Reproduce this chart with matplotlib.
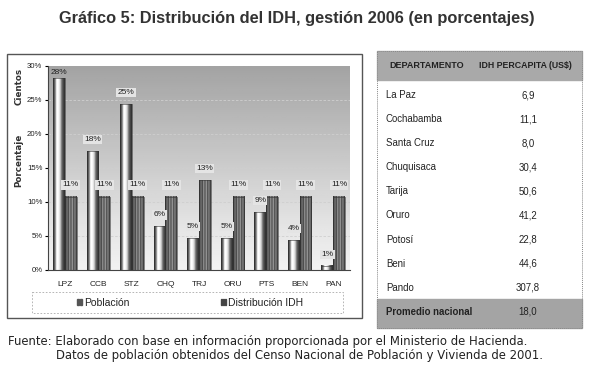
import matplotlib
matplotlib.use('Agg')
import matplotlib.pyplot as plt
import numpy as np
from matplotlib.patches import Rectangle

W,H=593,365
NARROW=['Liberation Sans Narrow','Liberation Sans','DejaVu Sans']

deptos=['LPZ','CCB','STZ','CHQ','TRJ','ORU','PTS','BEN','PAN']
poblacion=[28.2,17.5,24.4,6.4,4.7,4.7,8.5,4.4,0.6]
poblacion_lbl=['28%','18%','25%','6%','5%','5%','9%','4%','1%']
idh_dist=[10.8,10.8,10.8,10.8,13.2,10.8,10.8,10.8,10.8]
idh_lbl=['11%','11%','11%','11%','13%','11%','11%','11%','11%']

tabla_dep=['La Paz','Cochabamba','Santa Cruz','Chuquisaca','Tarija','Oruro','Potosí','Beni','Pando']
tabla_val=['6,9','11,1','8,0','30,4','50,6','41,2','22,8','44,6','307,8']
promedio=('Promedio nacional','18,0')

fig=plt.figure(figsize=(W/100,H/100),dpi=100)
fig.patch.set_facecolor('white')

# pixel overlay for boxes, table and texts
ov=fig.add_axes([0,0,1,1]);ov.set_xlim(0,W);ov.set_ylim(H,0);ov.axis('off')
ov.text(W/2,18,'Gráfico 5: Distribución del IDH, gestión 2006 (en porcentajes)',ha='center',va='center',
        fontsize=11.8,fontweight='bold',color='#333333',family=['Liberation Sans','DejaVu Sans'])
ov.add_patch(Rectangle((7,54),355,264,fill=False,ec='#555555',lw=1.0))
ov.add_patch(Rectangle((32,292),311,21,fill=False,ec='#aaaaaa',lw=0.6,ls=(0,(2,2))))
ov.text(19,86,'Cientos',rotation=90,ha='center',va='center',fontsize=6.3,fontweight='bold',color='#333333')
ov.text(19,160,'Porcentaje',rotation=90,ha='center',va='center',fontsize=6.3,fontweight='bold',color='#333333')
for x0,lab in ((76,'Población'),(220,'Distribución IDH')):
    ov.text(x0+8,302.5,lab,ha='left',va='center',fontsize=7.5,family=NARROW,color='#222222')
ov.add_patch(Rectangle((77,299),1.5,6,color='#555555'));ov.add_patch(Rectangle((80,299),1.5,6,color='#555555'))
for k in range(3):ov.add_patch(Rectangle((221+k*2,299),1.3,6,color='#444444'))

# table
tx0,tx1=377,582;hy0,hy1=51,80;ry=24.1;vx=528
ov.add_patch(Rectangle((tx0,hy0),tx1-tx0,hy1-hy0,color='#a9a9a9',zorder=1))
ov.text(tx0+12,66,'DEPARTAMENTO',ha='left',va='center',fontsize=6.5,fontweight='bold',family=NARROW,color='#222222',zorder=2)
ov.text(525,66,'IDH PERCAPITA (US$)',ha='center',va='center',fontsize=6.3,fontweight='bold',family=NARROW,color='#222222',zorder=2)
for i,(d,v) in enumerate(zip(tabla_dep,tabla_val)):
    y=95+i*ry
    ov.text(tx0+9,y,d,ha='left',va='center',fontsize=6.9,family=NARROW,color='#222222')
    ov.text(vx,y,v,ha='center',va='center',fontsize=6.9,family=NARROW,color='#222222')
py=95+len(tabla_dep)*ry
ov.add_patch(Rectangle((tx0,py-13),tx1-tx0,29,color='#a4a4a4',zorder=1))
ov.text(tx0+9,py,promedio[0],ha='left',va='center',fontsize=6.9,fontweight='bold',family=NARROW,color='#222222',zorder=2)
ov.text(vx,py,promedio[1],ha='center',va='center',fontsize=6.9,family=NARROW,color='#222222',zorder=2)
ov.add_patch(Rectangle((tx0,hy0),tx1-tx0,py+16-hy0,fill=False,ec='#888888',lw=0.7,ls=(0,(1,1)),zorder=3))

ov.text(8,342,'Fuente: Elaborado con base en información proporcionada por el Ministerio de Hacienda.',
        ha='left',va='center',fontsize=8.4,color='#222222')
ov.text(56,356,'Datos de población obtenidos del Censo Nacional de Población y Vivienda de 2001.',
        ha='left',va='center',fontsize=8.4,color='#222222')

# bar chart
ax=fig.add_axes([48/W,1-270/H,302/W,204/H])
x=np.arange(len(deptos));bw=0.35
ax.set_xlim(-0.5,len(deptos)-0.5);ax.set_ylim(0,30)
bg=np.concatenate([np.linspace(0.64,0.90,80),np.linspace(0.90,0.95,20)]).reshape(-1,1)
ax.imshow(bg,extent=(-0.5,len(deptos)-0.5,0,30),cmap='gray',vmin=0,vmax=1,aspect='auto',zorder=0,origin='upper')
for g in range(5,30,5):ax.axhline(g,color='#cfcfcf',lw=0.6,ls=(0,(3,2)),zorder=1)
prof_pob=np.array([[0.2,0.45,0.9,1.0,0.95,0.75,0.5,0.3,0.2]])
prof_idh=np.array([[0.2,0.45,0.3,0.55,0.35,0.58,0.33,0.5,0.25]])
lbl_box=dict(boxstyle='square,pad=0.15',fc='#e4e4e4',ec='none')
for xi,v,l in zip(x,poblacion,poblacion_lbl):
    ax.imshow(prof_pob,extent=(xi-bw,xi,0,v),cmap='gray',vmin=0,vmax=1,aspect='auto',zorder=2)
    ax.add_patch(Rectangle((xi-bw,0),bw,v,fill=False,ec='#333333',lw=0.4,zorder=3))
    ax.text(xi-bw/2,min(v+1.2,28.6),l,ha='center',va='bottom',fontsize=6,family=NARROW,color='#222222',zorder=4,
            bbox=lbl_box if v<25 else None)
for xi,v,l in zip(x,idh_dist,idh_lbl):
    ax.imshow(prof_idh,extent=(xi,xi+bw,0,v),cmap='gray',vmin=0,vmax=1,aspect='auto',zorder=2)
    ax.add_patch(Rectangle((xi,0),bw,v,fill=False,ec='#333333',lw=0.4,zorder=3))
    ax.text(xi+bw/2,v+1.2,l,ha='center',va='bottom',fontsize=6,family=NARROW,color='#222222',zorder=4,bbox=lbl_box)
ax.set_xticks(x,deptos,fontsize=6,family=NARROW,color='#222222')
ax.set_yticks(range(0,31,5),[f'{t}%' for t in range(0,31,5)],fontsize=5.6,family=NARROW,color='#222222')
ax.tick_params(axis='x',length=0,pad=8);ax.tick_params(axis='y',length=2,pad=2)
for s in ('top','right'):ax.spines[s].set_visible(False)
for s in ('left','bottom'):ax.spines[s].set_color('#444444');ax.spines[s].set_linewidth(0.8)

fig.savefig('out.png',dpi=100)
